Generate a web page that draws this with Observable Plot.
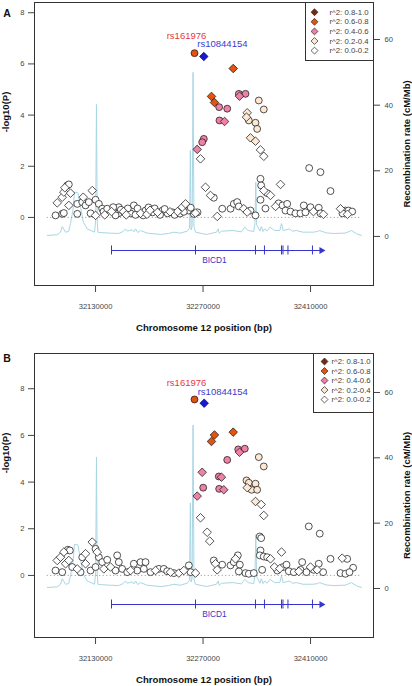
<!DOCTYPE html>
<html><head><meta charset="utf-8">
<script src="https://cdn.jsdelivr.net/npm/d3@7"></script>
<script src="https://cdn.jsdelivr.net/npm/@observablehq/plot@0.6"></script>
<style>
html,body{margin:0;padding:0;background:#fff;}
#chart{width:412px;}
#chart svg{display:block;}
</style></head><body><div id="chart"></div>
<script>
// ---- tick labels ----
const xTicks = [32130000, 32270000, 32410000];
const yTicks = [0, 2, 4, 6, 8];
const recTicks = [0, 20, 40, 60];

// ---- LD legend (top to bottom) ----
const r2Labels = ["r^2: 0.8-1.0", "r^2: 0.6-0.8", "r^2: 0.4-0.6", "r^2: 0.2-0.4", "r^2: 0.0-0.2"];
const r2LegendColors = ["#7a2a0c", "#e2540f", "#ef80a7", "#fde8d3", "#ffffff"];
// class index 0..4 = r2 0.0-0.2 ... 0.8-1.0 ; 5 = reference SNP
const r2ClassColors = ["#ffffff", "#fde8d3", "#ef80a7", "#e2540f", "#7a2a0c", "#1a1acc"];

// ---- labelled SNPs ----
const labelNames = ["rs161976", "rs10844154"];
const labelColors = ["#e8383d", "#3a3ad0"];
const labelPosA = [32258900, 32271000];
const labelLogpA = [6.42, 6.29];
const labelPosB = [32258900, 32271500];
const labelLogpB = [7.54, 7.38];

// ---- gene ----
const geneName = "BICD1";
const geneStart = 32150800;
const geneEnd = 32424200;
const exonPos = [32150800, 32260200, 32338300, 32350000, 32372200, 32374100, 32380600, 32412500];

// ---- recombination rate (cM/Mb) ----
const recPos = [32067100,32080000,32084400,32086600,32090900,32095000,32097400,32100500,32102600,32107000,32110500,32114000,32119200,32128700,32130200,32131200,32132200,32133000,32135200,32149500,32160000,32166000,32169100,32171300,32174000,32177800,32180000,32182100,32185000,32188600,32197300,32214600,32225000,32232000,32240000,32249400,32252400,32253500,32254400,32255800,32257000,32258200,32260200,32274500,32287500,32289700,32291000,32294000,32309300,32320000,32324400,32328800,32336000,32337600,32338700,32339800,32341800,32344000,32346000,32348000,32350400,32353000,32357000,32363400,32370000,32372200,32374400,32383000,32386000,32391700,32400000,32413400,32419000,32422000,32430000,32439500,32455000,32463300,32470000,32476300];
const recRate = [0.3,0.5,1.3,3.0,1.3,1.5,3.9,8.0,13.5,13.3,8.9,4.4,2.3,1.3,5.0,40.2,5.0,1.3,1.2,1.0,0.9,1.5,2.3,1.6,1.8,2.0,1.4,2.3,1.2,1.8,1.0,0.6,0.9,1.3,1.0,1.6,2.5,26.2,2.0,3.0,50.0,3.0,1.3,0.6,1.3,2.3,1.0,1.6,1.8,1.4,2.8,1.8,1.5,4.0,16.5,3.5,2.8,1.6,3.0,1.5,2.3,1.6,2.8,1.8,1.8,3.9,1.8,2.3,1.6,1.8,1.3,1.3,1.5,1.8,1.1,0.9,1.0,1.8,0.8,0.3];

// ---- SNPs: [position (bp), -log10(P), shape (c=circle, d=diamond), LD class] ----
const snpsA = [
[32077900,0.08,"c",0],[32086600,0.14,"c",0],[32080100,0.57,"d",0],[32086600,0.79,"d",0],[32088700,0.99,"d",0],
[32093100,1.25,"c",0],[32095200,1.29,"c",0],[32090000,1.16,"d",0],[32097400,0.95,"d",0],[32095200,0.47,"d",0],
[32088700,0.17,"c",0],[32106200,0.14,"c",0],[32114000,0.79,"d",0],[32106200,0.53,"c",0],[32112700,0.60,"c",0],
[32117000,0.47,"c",0],[32121300,0.60,"c",0],[32125700,1.05,"d",0],[32130000,0.69,"c",0],[32134300,0.53,"c",0],
[32138700,0.34,"c",0],[32123500,0.16,"c",0],[32130000,0.08,"d",0],[32140400,0.23,"c",0],[32145200,0.34,"c",0],
[32150800,0.23,"d",0],[32160300,0.40,"c",0],[32159900,0.16,"c",0],[32166400,0.23,"d",0],[32175500,0.16,"c",0],
[32179900,0.47,"c",0],[32184700,0.35,"c",0],[32188600,0.16,"d",0],[32195100,0.27,"c",0],[32199000,0.39,"c",0],
[32204200,0.20,"c",0],[32210700,0.20,"d",0],[32217200,0.27,"c",0],[32223700,0.16,"c",0],[32230200,0.20,"c",0],
[32236800,0.23,"d",0],[32242900,0.40,"d",0],[32247200,0.53,"d",0],[32251100,0.27,"c",0],[32258000,0.14,"c",0],
[32262800,0.20,"c",0],[32260200,0.17,"d",0],
[32142000,0.10,"d",0],[32153000,0.40,"c",0],[32156000,0.08,"c",0],[32163000,0.30,"c",0],[32170000,0.10,"d",0],
[32172000,0.35,"c",0],[32182000,0.10,"c",0],[32192000,0.08,"c",0],[32197000,0.12,"d",0],[32201000,0.28,"d",0],
[32207000,0.35,"c",0],[32214000,0.10,"c",0],[32220000,0.33,"c",0],[32227000,0.22,"d",0],[32233000,0.10,"c",0],
[32240000,0.15,"c",0],[32245000,0.22,"c",0],[32254000,0.38,"c",0],
[32273200,1.18,"d",0],[32279700,0.86,"d",0],[32284000,0.77,"c",0],[32288500,0.04,"d",0],[32295000,0.34,"c",0],
[32305800,0.34,"c",0],[32310100,0.53,"c",0],[32314500,0.60,"c",0],[32316600,0.43,"c",0],[32323100,0.34,"d",0],
[32327500,0.21,"d",0],[32331800,0.27,"c",0],[32338300,0.08,"c",0],[32344800,1.51,"c",0],[32345700,1.25,"c",0],
[32349100,1.05,"d",0],[32353500,0.95,"c",0],[32357800,0.86,"d",0],[32344800,0.69,"c",0],[32351300,0.35,"c",0],
[32370900,1.29,"d",0],[32364400,0.43,"d",0],[32368300,0.55,"c",0],[32373500,0.47,"c",0],[32379600,0.53,"c",0],
[32377400,0.27,"c",0],[32383900,0.23,"c",0],[32390400,0.16,"c",0],[32396900,0.16,"c",0],[32401200,0.47,"c",0],
[32403400,0.20,"c",0],[32409900,0.40,"c",0],[32413800,0.23,"d",0],[32420700,0.38,"c",0],[32422900,0.16,"c",0],
[32426800,0.12,"d",0],[32436000,1.03,"c",0],[32449000,0.34,"d",0],[32455500,0.27,"c",0],[32459400,0.27,"c",0],
[32464200,0.23,"c",0],[32451600,0.16,"c",0],[32458100,0.12,"d",0],[32408200,1.93,"c",0],[32422900,1.77,"c",0],
[32266700,2.29,"d",0],[32344800,2.64,"d",0],[32349100,2.39,"d",0],
[32342600,4.57,"c",1],[32349100,4.22,"c",1],[32327500,4.09,"d",1],[32326600,3.92,"d",1],[32329600,3.79,"c",1],
[32338300,3.70,"c",1],[32340500,3.46,"c",1],[32331800,3.11,"d",1],[32338300,2.98,"d",1],
[32291000,4.31,"c",2],[32301500,4.25,"c",2],[32316600,4.83,"c",2],[32325300,4.83,"c",2],[32317500,4.74,"d",2],
[32291400,3.79,"c",2],[32298000,3.75,"d",2],[32271000,3.07,"c",2],[32268900,2.94,"c",2],[32262400,2.66,"d",2],
[32309300,5.82,"d",3],[32281000,4.73,"d",3],[32284900,4.49,"d",3],
[32258900,6.42,"c",3],
[32271000,6.29,"d",5]
];

const snpsB = [
[32077900,0.21,"c",0],[32086600,0.14,"c",0],[32080100,0.64,"d",0],[32084400,0.78,"d",0],[32088700,1.00,"d",0],
[32093900,1.10,"c",0],[32096500,1.07,"c",0],[32091000,0.50,"d",0],[32095200,0.64,"d",0],[32099600,0.36,"c",0],
[32106200,0.28,"d",0],[32110500,0.14,"c",0],[32112700,0.78,"c",0],[32117000,0.93,"d",0],[32117000,0.50,"d",0],
[32125700,1.43,"d",0],[32130000,1.14,"c",0],[32132200,1.00,"d",0],[32134300,0.78,"c",0],[32138700,0.57,"c",0],
[32123500,0.21,"c",0],[32130000,0.36,"c",0],[32140800,0.28,"d",0],[32145200,0.67,"c",0],[32149500,0.36,"d",0],
[32156000,0.21,"c",0],[32158200,0.86,"c",0],[32160300,0.57,"c",0],[32164700,0.28,"c",0],[32171300,0.14,"c",0],
[32175600,0.21,"d",0],[32179900,0.50,"c",0],[32184300,0.21,"c",0],[32188600,0.57,"c",0],[32195100,0.57,"c",0],
[32192900,0.28,"c",0],[32201600,0.14,"c",0],[32208100,0.21,"d",0],[32212400,0.28,"c",0],[32218900,0.28,"c",0],
[32223300,0.18,"c",0],[32227600,0.14,"d",0],[32232000,0.10,"c",0],[32238500,0.10,"d",0],[32245000,0.21,"d",0],
[32251500,0.43,"c",0],[32253700,0.14,"c",0],[32260200,0.10,"d",0],
[32266700,2.47,"d",0],[32275400,1.85,"d",0],[32278700,1.47,"d",0],[32284000,0.64,"c",0],[32286200,0.50,"d",0],
[32288400,0.24,"d",0],[32294900,0.46,"c",0],[32305800,0.43,"c",0],[32310100,0.57,"c",0],[32315300,0.86,"c",0],
[32312300,0.71,"d",0],[32317900,0.46,"c",0],[32316600,0.17,"c",0],[32325300,0.10,"c",0],[32329600,0.07,"c",0],
[32336100,0.10,"c",0],[32344800,1.07,"c",0],[32343900,0.86,"c",0],[32349100,0.81,"c",0],[32353500,0.78,"c",0],
[32357800,0.71,"d",0],[32347000,0.24,"c",0],[32363000,0.36,"d",0],[32366600,0.21,"c",0],[32370000,0.29,"d",0],
[32374400,0.36,"c",0],[32378700,0.46,"c",0],[32381700,0.18,"c",0],[32388200,0.14,"c",0],[32394700,0.17,"d",0],
[32399100,0.57,"c",0],[32396900,0.24,"c",0],[32404700,0.14,"c",0],[32409900,0.36,"d",0],[32414200,0.24,"c",0],
[32420700,0.50,"c",0],[32418600,0.24,"d",0],[32426400,0.14,"c",0],[32436000,0.71,"c",0],[32451200,0.74,"d",0],
[32457700,0.71,"c",0],[32465500,0.33,"c",0],[32449000,0.10,"c",0],[32455500,0.07,"c",0],[32460700,0.14,"c",0],
[32372200,1.00,"d",0],[32343900,1.67,"c",0],[32345700,1.60,"c",0],[32407700,2.10,"c",0],[32422000,1.79,"c",0],
[32345700,3.04,"d",0],[32349100,2.57,"d",0],
[32342600,5.07,"c",1],[32349100,4.67,"c",1],[32326600,4.07,"c",1],[32329600,3.97,"c",1],[32338300,3.93,"c",1],
[32327500,3.76,"d",1],[32333200,3.67,"c",1],[32340500,3.67,"c",1],[32338300,3.17,"d",1],
[32315800,5.40,"c",2],[32324400,5.43,"c",2],[32317500,5.28,"d",2],[32301500,4.95,"c",2],[32268900,4.42,"d",2],
[32290500,4.24,"c",2],[32294000,4.21,"d",2],[32270200,3.76,"c",2],[32291000,3.71,"c",2],[32297000,3.67,"d",2],
[32262400,3.40,"d",2],
[32309300,6.14,"d",3],[32284900,6.02,"d",3],[32281000,5.74,"d",3],
[32258900,7.54,"c",3],
[32271500,7.38,"d",5]
];

const FONT = "Liberation Sans, Arial, Helvetica, sans-serif";
const geneColor = "#3535cc";
const recColor = "#a9d6e4";

function panel(cfg) {
  const off = cfg.recOffset, k = cfg.recScale;
  const recY = r => off + r * k;
  const frameH = cfg.height - 2 - cfg.marginBottom;
  const pxU = frameH / (cfg.yDomain[1] - cfg.yDomain[0]);
  const marks = [];
  // recombination rate line
  marks.push(Plot.line(recRate, {x: recPos, y: recRate.map(recY), stroke: recColor, strokeWidth: 1}));
  // dotted zero line
  marks.push(Plot.ruleY([0], {x1: recPos[0], x2: recPos[recPos.length - 1], stroke: "#777", strokeDasharray: "1,2.5", strokeWidth: 0.8}));
  // gene track
  marks.push(Plot.ruleY([cfg.geneY], {x1: geneStart, x2: geneEnd, stroke: geneColor, strokeWidth: 1.1}));
  marks.push(Plot.ruleX(exonPos, {x: d => d, y1: cfg.geneY - 4.5 / pxU, y2: cfg.geneY + 4.5 / pxU, stroke: geneColor, strokeWidth: 1}));
  marks.push(Plot.dot([geneEnd], {x: d => d, y: cfg.geneY, symbol: "triangle", rotate: 90, r: 2.6, fill: geneColor, stroke: "none"}));
  marks.push(Plot.text([geneName], {x: (geneStart + geneEnd) / 2, y: cfg.geneY, dx: -2, dy: 10, fill: geneColor, fontSize: 8.3}));
  // SNPs
  for (const cls of [0, 1, 2, 3, 4, 5]) {
    for (const shape of ["c", "d"]) {
      const pts = cfg.snps.filter(d => d[3] === cls && d[2] === shape);
      if (!pts.length) continue;
      marks.push(Plot.dot(pts, {
        x: d => d[0], y: d => d[1],
        symbol: shape === "c" ? "circle" : "diamond2",
        r: shape === "c" ? 3.45 : 3.85,
        fill: r2ClassColors[cls],
        stroke: cls === 5 ? "#0a0a80" : "#1a1a1a",
        strokeWidth: 0.75
      }));
    }
  }
  // SNP labels
  marks.push(Plot.text([labelNames[0]], {x: cfg.labelPos[0], y: cfg.labelLogp[0], dx: -8, dy: cfg.labDy[0], fill: labelColors[0], fontSize: 9.5}));
  marks.push(Plot.text([labelNames[1]], {x: cfg.labelPos[1], y: cfg.labelLogp[1], dx: -6.5, dy: cfg.labDy[1], textAnchor: "start", fill: labelColors[1], fontSize: 9.5}));
  // legend
  marks.push(Plot.frame({insetLeft: cfg.legInsetLeft, insetBottom: cfg.legInsetBottom, fill: "white", stroke: "#333"}));
  r2Labels.forEach((lab, i) => {
    marks.push(Plot.dot([lab], {frameAnchor: "top-right", dx: cfg.legSymDx, dy: cfg.legDy0 + i * cfg.legStep, symbol: "diamond2", r: 3.1, fill: r2LegendColors[i], stroke: "#222", strokeWidth: 0.7}));
    marks.push(Plot.text([lab], {frameAnchor: "top-right", dx: cfg.legTextDx, dy: cfg.legDy0 + i * cfg.legStep, textAnchor: "start", lineAnchor: "middle", fontSize: 7.8, fill: "#444"}));
  });
  // frame
  marks.push(Plot.frame({stroke: "#333"}));
  // axes
  marks.push(Plot.axisX(xTicks, {anchor: "bottom", tickSize: 7, tickPadding: 11, tickFormat: "d", color: "#444", fontSize: 7.6, label: null}));
  marks.push(Plot.axisY(yTicks, {anchor: "left", tickSize: 6, tickPadding: 4, color: "#444", fontSize: 7.6, label: null}));
  marks.push(Plot.axisY(recTicks.map(recY), {anchor: "right", tickSize: 6, tickPadding: 5, tickFormat: v => String(Math.round((v - off) / k)), color: "#444", fontSize: 7.6, label: null}));
  // titles
  marks.push(Plot.text(["-log10(P)"], {frameAnchor: "left", y: cfg.ylabY, dx: -29, rotate: -90, textAnchor: "middle", lineAnchor: "middle", fontWeight: "bold", fontSize: 9.5, fill: "#111"}));
  marks.push(Plot.text(["Recombination rate (cM/Mb)"], {frameAnchor: "right", dx: 33, rotate: -90, textAnchor: "middle", lineAnchor: "middle", fontWeight: "bold", fontSize: 9.5, fill: "#111"}));
  marks.push(Plot.text(["Chromosome 12 position (bp)"], {frameAnchor: "bottom", dy: 42, textAnchor: "middle", lineAnchor: "middle", fontWeight: "bold", fontSize: 9.6, fill: "#111"}));
  marks.push(Plot.text([cfg.letter], {frameAnchor: "top-left", dx: -27.5, dy: cfg.letterDy, textAnchor: "middle", lineAnchor: "middle", fontWeight: "bold", fontSize: 10.5, fill: "#111"}));

  return Plot.plot({
    width: 412,
    height: cfg.height,
    marginTop: 2,
    marginLeft: 34,
    marginRight: 39,
    marginBottom: cfg.marginBottom,
    x: {domain: [32050500, 32492000], axis: null},
    y: {domain: cfg.yDomain, axis: null},
    style: {fontFamily: FONT, background: "white", overflow: "visible"},
    marks
  });
}

const chart = document.getElementById("chart");
chart.append(panel({
  letter: "A", letterDy: 11.3,
  snps: snpsA, labelPos: labelPosA, labelLogp: labelLogpA, labDy: [-17.5, -12.7],
  height: 351, marginBottom: 66, yDomain: [-2.66, 8.40],
  recOffset: -0.742, recScale: 0.12825,
  geneY: -1.29, ylabY: 4.12,
  legInsetLeft: 271, legInsetBottom: 225, legSymDx: -59, legTextDx: -44, legDy0: 9.7, legStep: 9.6
}));
chart.append(panel({
  letter: "B", letterDy: 5.5,
  snps: snpsB, labelPos: labelPosB, labelLogp: labelLogpB, labDy: [-17, -11.7],
  height: 335, marginBottom: 49, yDomain: [-2.66, 9.51],
  recOffset: -0.56, recScale: 0.14,
  geneY: -1.246, ylabY: 5.245,
  legInsetLeft: 279, legInsetBottom: 225, legSymDx: -49, legTextDx: -42, legDy0: 8, legStep: 9.5
}));
</script>
</body></html>
